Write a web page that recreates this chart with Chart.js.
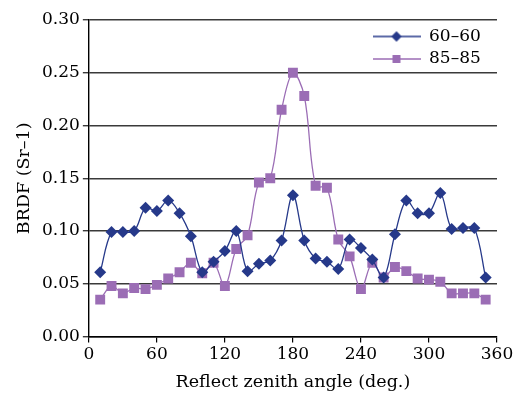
<!DOCTYPE html>
<html>
<head>
<meta charset="utf-8">
<script src="https://cdn.jsdelivr.net/npm/chart.js@4/dist/chart.umd.min.js"></script>
<style>
  html, body { margin: 0; padding: 0; background: #fff; }
  #wrap { width: 518px; height: 396px; }
</style>
</head>
<body>
<div id="wrap"><canvas id="grafico" width="518" height="396"></canvas></div>
<script>
const angulos = [10, 20, 30, 40, 50, 60, 70, 80, 90, 100, 110, 120, 130, 140, 150, 160, 170, 180,
    190, 200, 210, 220, 230, 240, 250, 260, 270, 280, 290, 300, 310, 320, 330, 340, 350];

const serie6060 = [0.061, 0.099, 0.099, 0.100, 0.122, 0.119, 0.129, 0.117, 0.095, 0.061, 0.071, 0.081,
    0.100, 0.062, 0.069, 0.072, 0.091, 0.134, 0.091, 0.074, 0.071, 0.064, 0.092, 0.084, 0.073, 0.056,
    0.097, 0.129, 0.117, 0.117, 0.136, 0.102, 0.103, 0.103, 0.056];

const serie8585 = [0.035, 0.048, 0.041, 0.046, 0.045, 0.049, 0.055, 0.061, 0.070, 0.060, 0.070, 0.048,
    0.083, 0.096, 0.146, 0.150, 0.215, 0.250, 0.228, 0.143, 0.141, 0.092, 0.076, 0.045, 0.070, 0.056,
    0.066, 0.062, 0.055, 0.054, 0.052, 0.041, 0.041, 0.041, 0.035];

const nomesSeries = ["60–60", "85–85"];
const ticksX = [0, 60, 120, 180, 240, 300, 360];
const ticksY = [0.00, 0.05, 0.10, 0.15, 0.20, 0.25, 0.30];

const corAzul = "#26398a";
const corRoxo = "#9b6db5";
const fonte = "'DejaVu Serif', serif";

// legend icon: short line with the marker in the middle
function iconeLegenda(cor, estilo, raio) {
    const c = document.createElement("canvas");
    c.width = 48;
    c.height = 14;
    const g = c.getContext("2d");
    g.strokeStyle = cor;
    g.lineWidth = 1.5;
    g.beginPath();
    g.moveTo(0, 7);
    g.lineTo(48, 7);
    g.stroke();
    g.fillStyle = cor;
    Chart.helpers.drawPoint(g, { pointStyle: estilo, radius: raio, rotation: 0, borderWidth: 0 }, 24, 7);
    g.fill();
    return c;
}

const pontos = (ys) => ys.map((y, i) => ({ x: angulos[i], y: y }));

// move the legend to the upper right corner of the plot
const legendaDentro = {
    id: "legendaDentro",
    afterLayout(chart) {
        const lg = chart.legend;
        const dx = 367 - lg.left;
        lg.left += dx;
        lg.right += dx;
        const dy = 22.5 - lg.top;
        lg.top += dy;
        lg.bottom += dy;
    }
};

const ctx = document.getElementById("grafico").getContext("2d");

new Chart(ctx, {
    type: "line",
    data: {
        datasets: [
            {
                label: nomesSeries[0],
                data: pontos(serie6060),
                borderColor: corAzul,
                backgroundColor: corAzul,
                borderWidth: 1.3,
                pointStyle: "rectRot",
                pointRadius: 6,
                pointBorderWidth: 0,
                tension: 0.35,
                fill: false,
            },
            {
                label: nomesSeries[1],
                data: pontos(serie8585),
                borderColor: corRoxo,
                backgroundColor: corRoxo,
                borderWidth: 1.3,
                pointStyle: "rect",
                pointRadius: 7,
                pointBorderWidth: 0,
                tension: 0.35,
                fill: false,
            },
        ],
    },
    options: {
        responsive: false,
        animation: false,
        layout: { padding: { left: 14, right: 21, top: 20, bottom: 3 } },
        scales: {
            x: {
                type: "linear",
                min: 0,
                max: 360,
                afterBuildTicks: (axis) => { axis.ticks = ticksX.map(v => ({ value: v })); },
                grid: { drawOnChartArea: false, drawTicks: true, tickLength: 6, color: "#000", lineWidth: 1.2 },
                border: { color: "#000", width: 1.4 },
                ticks: { color: "#000", font: { family: fonte, size: 17 }, padding: 2, maxRotation: 0 },
                title: { display: true, text: "Reflect zenith angle (deg.)", color: "#000",
                    font: { family: fonte, size: 17.5 }, padding: { top: 5, bottom: 0 } },
            },
            y: {
                min: 0,
                max: 0.30,
                afterBuildTicks: (axis) => { axis.ticks = ticksY.map(v => ({ value: v })); },
                grid: { color: "#3a3a3a", lineWidth: 1.4, tickLength: 6 },
                border: { color: "#000", width: 1.4 },
                ticks: { color: "#000", font: { family: fonte, size: 17 }, padding: 3,
                    callback: (v) => v.toFixed(2) },
                title: { display: true, text: "BRDF (Sr–1)", color: "#000",
                    font: { family: fonte, size: 17.5 }, padding: { top: 0, bottom: 4 } },
            },
        },
        plugins: {
            legend: {
                position: "chartArea",
                align: "start",
                labels: {
                    color: "#000",
                    font: { family: fonte, size: 17 },
                    usePointStyle: true,
                    pointStyleWidth: 48,
                    padding: 5.5,
                    generateLabels: (chart) => [
                        { text: nomesSeries[0], pointStyle: iconeLegenda(corAzul, "rectRot", 5), fontColor: "#000",
                          lineWidth: 0, strokeStyle: "rgba(0,0,0,0)", fillStyle: corAzul, datasetIndex: 0 },
                        { text: nomesSeries[1], pointStyle: iconeLegenda(corRoxo, "rect", 5.5), fontColor: "#000",
                          lineWidth: 0, strokeStyle: "rgba(0,0,0,0)", fillStyle: corRoxo, datasetIndex: 1 },
                    ],
                },
            },
            tooltip: { enabled: false },
        },
    },
    plugins: [legendaDentro],
});
</script>
</body>
</html>
